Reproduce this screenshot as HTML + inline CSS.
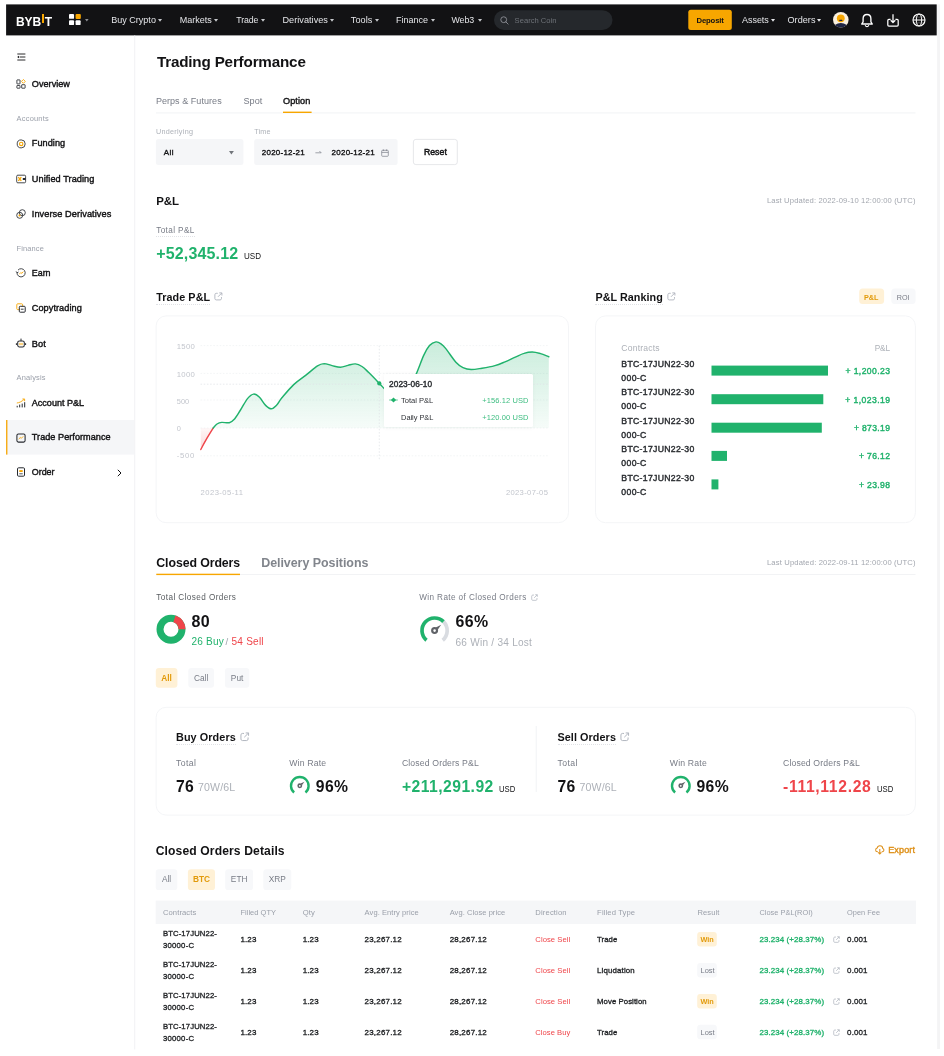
<!DOCTYPE html>
<html><head><meta charset="utf-8"><title>Trading Performance</title>
<style>
html,body{margin:0;padding:0;background:#fff;}
body{width:944px;height:1056px;position:relative;overflow:hidden;font-family:"Liberation Sans",sans-serif;}
.t{position:absolute;white-space:nowrap;}
#pg{position:absolute;left:0;top:0;width:944px;height:1056px;will-change:transform;}
.r{position:absolute;}
svg{position:absolute;overflow:visible;}
</style></head><body><div id="pg">
<svg style="left:936px;top:3px" width="5" height="1047" viewBox="936 3 5 1047"><rect x="937.10" y="4.40" width="2.90" height="1044.60" fill="#f4f4f5"/></svg>
<svg style="left:5px;top:3px" width="933" height="34" viewBox="5 3 933 34"><rect x="6.10" y="4.40" width="930.60" height="31.00" fill="#121214"/></svg>
<div class="t" style="left:15.9px;top:14.2px;height:16px;line-height:16px;font-size:12px;font-weight:700;color:#fff;letter-spacing:0.02px;">BYB<span style="display:inline-block;width:2.2px;height:9.2px;background:#f7a600;margin:0 0.9px 0 0.3px;vertical-align:-0.2px;position:relative;top:-3.7px;"></span>T</div>
<svg style="left:69.2px;top:14.1px" width="12.2" height="11.6" viewBox="0 0 13 13" preserveAspectRatio="none"><rect x="0" y="0" width="5.4" height="5.4" rx="1" fill="#fff"/><rect x="7" y="0" width="5.6" height="5.6" rx="1" fill="#f7a600"/><rect x="0" y="7" width="5.4" height="5.4" rx="1" fill="#fff"/><rect x="7" y="7" width="5.4" height="5.4" rx="1" fill="#fff"/></svg>
<svg style="left:84.86px;top:19.45px" width="3.64" height="2.53" viewBox="0 0 4.4 2.6" preserveAspectRatio="none"><path d="M0 0H4.4L2.2 2.6Z" fill="#8a8d93"/></svg>
<div class="t" style="top:15.34px;height:11.74px;line-height:11.74px;font-size:9.03px;color:#e4e5e8;letter-spacing:0.013px;left:111.20px;">Buy Crypto</div>
<svg style="left:158.36px;top:19.14px" width="4.05" height="2.82" viewBox="0 0 4.4 2.6" preserveAspectRatio="none"><path d="M0 0H4.4L2.2 2.6Z" fill="#c6c8cc"/></svg>
<div class="t" style="top:15.34px;height:11.74px;line-height:11.74px;font-size:9.03px;color:#e4e5e8;letter-spacing:0.012px;left:179.70px;">Markets</div>
<svg style="left:214.26px;top:19.14px" width="4.05" height="2.82" viewBox="0 0 4.4 2.6" preserveAspectRatio="none"><path d="M0 0H4.4L2.2 2.6Z" fill="#c6c8cc"/></svg>
<div class="t" style="top:15.49px;height:11.41px;line-height:11.41px;font-size:8.78px;color:#e4e5e8;letter-spacing:-0.122px;left:236.30px;">Trade</div>
<svg style="left:260.86px;top:19.14px" width="4.05" height="2.82" viewBox="0 0 4.4 2.6" preserveAspectRatio="none"><path d="M0 0H4.4L2.2 2.6Z" fill="#c6c8cc"/></svg>
<div class="t" style="top:15.29px;height:11.87px;line-height:11.87px;font-size:9.13px;color:#e4e5e8;letter-spacing:0.040px;left:282.40px;">Derivatives</div>
<svg style="left:330.46px;top:19.14px" width="4.05" height="2.82" viewBox="0 0 4.4 2.6" preserveAspectRatio="none"><path d="M0 0H4.4L2.2 2.6Z" fill="#c6c8cc"/></svg>
<div class="t" style="top:15.27px;height:11.9px;line-height:11.9px;font-size:9.15px;color:#e4e5e8;letter-spacing:0.048px;left:350.80px;">Tools</div>
<svg style="left:375.26px;top:19.14px" width="4.05" height="2.82" viewBox="0 0 4.4 2.6" preserveAspectRatio="none"><path d="M0 0H4.4L2.2 2.6Z" fill="#c6c8cc"/></svg>
<div class="t" style="top:15.36px;height:11.7px;line-height:11.7px;font-size:9.0px;color:#e4e5e8;letter-spacing:-0.003px;left:396.00px;">Finance</div>
<svg style="left:431.06px;top:19.14px" width="4.05" height="2.82" viewBox="0 0 4.4 2.6" preserveAspectRatio="none"><path d="M0 0H4.4L2.2 2.6Z" fill="#c6c8cc"/></svg>
<div class="t" style="top:15.45px;height:11.48px;line-height:11.48px;font-size:8.83px;color:#e4e5e8;letter-spacing:-0.077px;left:451.50px;">Web3</div>
<svg style="left:477.66px;top:19.14px" width="4.05" height="2.82" viewBox="0 0 4.4 2.6" preserveAspectRatio="none"><path d="M0 0H4.4L2.2 2.6Z" fill="#c6c8cc"/></svg>
<svg style="left:493px;top:9px" width="121" height="22" viewBox="493 9 121 22"><rect x="494.00" y="10.20" width="118.50" height="19.70" rx="10" fill="#25282c"/></svg>
<svg style="left:499.8px;top:16.0px" width="9" height="9" viewBox="0 0 8 8"><circle cx="3.3" cy="3.3" r="2.6" fill="none" stroke="#8d9096" stroke-width="0.8"/><path d="M5.2 5.2L7.2 7.2" stroke="#8d9096" stroke-width="0.8" stroke-linecap="round"/></svg>
<div class="t" style="top:16.13px;height:9.91px;line-height:9.91px;font-size:7.62px;color:#6e7278;letter-spacing:0.006px;left:514.60px;">Search Coin</div>
<svg style="left:687px;top:8px" width="46" height="23" viewBox="687 8 46 23"><rect x="688.30" y="9.80" width="43.50" height="20.20" rx="2.5" fill="#f7a600"/></svg>
<div class="t" style="top:15.88px;height:10.02px;line-height:10.02px;font-size:7.71px;color:#121214;font-weight:700;letter-spacing:-0.153px;left:696.50px;">Deposit</div>
<div class="t" style="top:15.38px;height:11.65px;line-height:11.65px;font-size:8.96px;color:#e4e5e8;letter-spacing:-0.015px;left:742.00px;">Assets</div>
<svg style="left:771.06px;top:19.14px" width="4.05" height="2.82" viewBox="0 0 4.4 2.6" preserveAspectRatio="none"><path d="M0 0H4.4L2.2 2.6Z" fill="#e4e5e8"/></svg>
<div class="t" style="top:15.30px;height:11.83px;line-height:11.83px;font-size:9.1px;color:#e4e5e8;letter-spacing:0.031px;left:787.50px;">Orders</div>
<svg style="left:817.36px;top:19.14px" width="4.05" height="2.82" viewBox="0 0 4.4 2.6" preserveAspectRatio="none"><path d="M0 0H4.4L2.2 2.6Z" fill="#e4e5e8"/></svg>
<svg style="left:833.4px;top:11.8px" width="15.6" height="15.6" viewBox="0 0 16 16"><defs><clipPath id="av"><circle cx="8" cy="8" r="8"/></clipPath></defs><circle cx="8" cy="8" r="8" fill="#fbf0de"/><g clip-path="url(#av)"><circle cx="8" cy="6.5" r="4" fill="#f7a600"/><rect x="6.3" y="7.9" width="3.4" height="1.3" rx="0.5" fill="#1f2544"/><ellipse cx="8" cy="17" rx="8" ry="5.6" fill="#1f2544"/></g></svg>
<svg style="left:859.9px;top:12.6px" width="14" height="15" viewBox="0 0 14 15"><path d="M7 1.5C4.5 1.5 3.1 3.4 3.1 5.8V8.8L1.7 11H12.3L10.9 8.800V5.8C10.9 3.4 9.5 1.5 7 1.5Z" fill="none" stroke="#fff" stroke-width="1.35" stroke-linejoin="round"/><path d="M5.4 12.6C5.7 13.4 6.300 13.7 7 13.7S8.3 13.4 8.6 12.6" fill="none" stroke="#fff" stroke-width="1.2" stroke-linecap="round"/></svg>
<svg style="left:885.8px;top:12.8px" width="14" height="15" viewBox="0 0 14 15"><path d="M4.6 6.3H2.900C2.3 6.3 1.8 6.8 1.8 7.4V11.900C1.8 12.5 2.3 13 2.900 13H11.100C11.7 13 12.2 12.5 12.2 11.900V7.4C12.2 6.800 11.7 6.3 11.100 6.3H9.4" fill="none" stroke="#fff" stroke-width="1.25" stroke-linejoin="round"/><path d="M7 1.2V9.400M4.700 7.300L7 9.600L9.300 7.300" fill="none" stroke="#fff" stroke-width="1.25" stroke-linejoin="round"/></svg>
<svg style="left:911.5px;top:13px" width="14" height="14" viewBox="0 0 14 14"><circle cx="7" cy="7" r="6" fill="none" stroke="#fff" stroke-width="1.15"/><ellipse cx="7" cy="7" rx="2.700" ry="6" fill="none" stroke="#fff" stroke-width="1.000"/><path d="M1 7H13" stroke="#fff" stroke-width="1.000"/><path d="M2 4.2H12M2 9.800H12" stroke="#fff" stroke-width="0.45" opacity="0.55"/></svg>
<svg style="left:133px;top:34px" width="4" height="1017" viewBox="133 34 4 1017"><rect x="134.30" y="35.40" width="0.90" height="1014.10" fill="#eff0f2"/></svg>
<svg style="left:17.3px;top:52.6px" width="9" height="8" viewBox="0 0 9 8"><path d="M0.3 1H8.4M2.6 4H8.4M0.3 7H8.4" stroke="#121214" stroke-width="0.9"/><path d="M0.2 4L2 2.8V5.2Z" fill="#121214"/></svg>
<div class="t" style="top:79.10px;height:11.83px;line-height:11.83px;font-size:9.1px;color:#121214;letter-spacing:0.034px;left:31.80px;-webkit-text-stroke:0.4px #121214;">Overview</div>
<svg style="left:16.0px;top:79.30px" width="10" height="10" viewBox="0 0 10 10"><rect x="0.9" y="0.9" width="3.1" height="4.0" rx="0.3" fill="none" stroke="#26292e" stroke-width="0.85"/><rect x="0.9" y="6.5" width="3.1" height="2.7" rx="0.3" fill="none" stroke="#26292e" stroke-width="0.85"/><rect x="5.7" y="5.7" width="3.4" height="3.5" rx="0.3" fill="none" stroke="#26292e" stroke-width="0.85"/><path d="M7.4 0.5L9.3 2.400L7.4 4.300L5.5 2.400Z" fill="none" stroke="#f7a600" stroke-width="0.9"/></svg>
<div class="t" style="top:114.13px;height:9.67px;line-height:9.67px;font-size:7.44px;color:#9a9fa9;letter-spacing:0.212px;left:16.60px;">Accounts</div>
<div class="t" style="top:138.38px;height:11.88px;line-height:11.88px;font-size:9.14px;color:#121214;letter-spacing:0.053px;left:31.80px;-webkit-text-stroke:0.4px #121214;">Funding</div>
<svg style="left:16.0px;top:138.60px" width="10" height="10" viewBox="0 0 10 10"><circle cx="5.2" cy="4.9" r="4.0" fill="none" stroke="#26292e" stroke-width="0.85"/><circle cx="5.2" cy="4.9" r="1.7" fill="none" stroke="#f7a600" stroke-width="1.1"/></svg>
<div class="t" style="top:173.55px;height:11.95px;line-height:11.95px;font-size:9.19px;color:#121214;letter-spacing:0.059px;left:31.80px;-webkit-text-stroke:0.4px #121214;">Unified Trading</div>
<svg style="left:16.0px;top:173.80px" width="10" height="10" viewBox="0 0 10 10"><rect x="0.7" y="1.2" width="8.9" height="7.6" rx="1.1" fill="none" stroke="#26292e" stroke-width="0.85"/><path d="M2.3 3.2L5.300 6.800M5.300 3.2L2.3 6.800" stroke="#f7a600" stroke-width="1.3"/><path d="M6.8 5H9.6" stroke="#26292e" stroke-width="2.0"/></svg>
<div class="t" style="top:208.53px;height:11.99px;line-height:11.99px;font-size:9.22px;color:#121214;letter-spacing:0.063px;left:31.80px;-webkit-text-stroke:0.4px #121214;">Inverse Derivatives</div>
<svg style="left:16.0px;top:208.80px" width="10" height="10" viewBox="0 0 10 10"><circle cx="6.300" cy="3.7" r="3.0" fill="none" stroke="#26292e" stroke-width="0.85"/><circle cx="3.7" cy="6.300" r="3.0" fill="none" stroke="#26292e" stroke-width="0.85"/><circle cx="3.5" cy="6.5" r="1.0" fill="#f7a600"/></svg>
<div class="t" style="top:243.63px;height:9.67px;line-height:9.67px;font-size:7.44px;color:#9a9fa9;letter-spacing:0.119px;left:16.60px;">Finance</div>
<div class="t" style="top:268.21px;height:11.58px;line-height:11.58px;font-size:8.91px;color:#121214;letter-spacing:-0.030px;left:31.80px;-webkit-text-stroke:0.4px #121214;">Earn</div>
<svg style="left:16.0px;top:268.30px" width="10" height="10" viewBox="0 0 10 10"><path d="M2.0 2.1A4.1 4.1 0 1 1 1.0 4.4" fill="none" stroke="#26292e" stroke-width="0.85"/><path d="M0.1 3.4L1.0 4.800L2.5 4.0" fill="none" stroke="#26292e" stroke-width="0.85"/><path d="M3.3 6.2L4.800 4.5L5.800 5.4L7.300 3.600" fill="none" stroke="#f7a600" stroke-width="0.9"/></svg>
<div class="t" style="top:303.07px;height:11.91px;line-height:11.91px;font-size:9.16px;color:#121214;letter-spacing:0.055px;left:31.80px;-webkit-text-stroke:0.4px #121214;">Copytrading</div>
<svg style="left:16.0px;top:303.30px" width="10" height="10" viewBox="0 0 10 10"><rect x="0.8" y="0.8" width="5.800" height="5.800" rx="0.9" fill="none" stroke="#f7a600" stroke-width="0.9"/><rect x="3.300" y="3.300" width="5.900" height="5.900" rx="0.9" fill="#fff" stroke="#26292e" stroke-width="1.0"/><path d="M4.800 6.2H7.600" stroke="#26292e" stroke-width="0.9"/></svg>
<div class="t" style="top:338.03px;height:12.0px;line-height:12.0px;font-size:9.23px;color:#121214;letter-spacing:0.082px;left:31.80px;-webkit-text-stroke:0.4px #121214;">Bot</div>
<svg style="left:16.0px;top:338.30px" width="10" height="10" viewBox="0 0 10 10"><rect x="1.7" y="2.900" width="6.600" height="6.100" rx="1.700" fill="none" stroke="#26292e" stroke-width="1.05"/><path d="M5 0.6V2.900M0.400 5.200V7M9.600 5.200V7" stroke="#26292e" stroke-width="1.0"/><rect x="3.500" y="4.900" width="1.0" height="2.300" fill="#f7a600"/><rect x="5.500" y="4.900" width="1.0" height="2.300" fill="#f7a600"/></svg>
<div class="t" style="top:373.13px;height:9.67px;line-height:9.67px;font-size:7.44px;color:#9a9fa9;letter-spacing:0.162px;left:16.60px;">Analysis</div>
<div class="t" style="top:397.64px;height:11.74px;line-height:11.74px;font-size:9.03px;color:#121214;letter-spacing:0.009px;left:31.80px;-webkit-text-stroke:0.4px #121214;">Account P&amp;L</div>
<svg style="left:16.0px;top:397.80px" width="10" height="10" viewBox="0 0 10 10"><path d="M1.2 9.400V7.800M3.700 9.400V6.600M6.200 9.400V5.600M8.700 9.400V4.200" stroke="#26292e" stroke-width="1"/><path d="M0.800 5.0C3.200 4.800 5.600 3.600 8.200 1.3M6.400 1.0H8.600V3.200" fill="none" stroke="#f7a600" stroke-width="0.9"/></svg>
<svg style="left:5px;top:419px" width="131" height="37" viewBox="5 419 131 37"><rect x="6.10" y="420.00" width="128.20" height="34.60" fill="#f5f6f8"/></svg>
<svg style="left:5px;top:419px" width="4" height="37" viewBox="5 419 4 37"><rect x="6.10" y="420.00" width="1.30" height="34.60" fill="#f7a600"/></svg>
<div class="t" style="top:432.39px;height:11.86px;line-height:11.86px;font-size:9.12px;color:#121214;letter-spacing:0.039px;left:31.80px;-webkit-text-stroke:0.4px #121214;">Trade Performance</div>
<svg style="left:16.0px;top:432.60px" width="10" height="10" viewBox="0 0 10 10"><rect x="0.9" y="0.9" width="8.2" height="8.2" rx="1.500" fill="none" stroke="#26292e" stroke-width="1.05"/><path d="M2.700 6.100L4.300 4.500L5.300 5.300L7.200 3.400" fill="none" stroke="#f7a600" stroke-width="0.9" stroke-width="1.2"/></svg>
<div class="t" style="top:467.30px;height:11.61px;line-height:11.61px;font-size:8.93px;color:#121214;letter-spacing:-0.025px;left:31.80px;-webkit-text-stroke:0.4px #121214;">Order</div>
<svg style="left:16.0px;top:467.40px" width="10" height="10" viewBox="0 0 10 10"><rect x="1.500" y="0.800" width="7.000" height="8.400" rx="1.1" fill="none" stroke="#26292e" stroke-width="1.0"/><rect x="3.300" y="3.100" width="3.400" height="1.900" fill="#f7a600"/><path d="M3.300 6.800H6.700" stroke="#26292e" stroke-width="0.8"/></svg>
<svg style="left:117.3px;top:468.6px" width="5" height="8" viewBox="0 0 5 8"><path d="M0.8 0.8L4 4L0.8 7.2" fill="none" stroke="#121214" stroke-width="1"/></svg>
<div class="t" style="top:52.47px;height:19.79px;line-height:19.79px;font-size:15.22px;color:#121214;font-weight:700;letter-spacing:-0.181px;left:156.90px;">Trading Performance</div>
<div class="t" style="top:95.94px;height:11.74px;line-height:11.74px;font-size:9.03px;color:#787c86;letter-spacing:0.044px;left:155.90px;">Perps &amp; Futures</div>
<div class="t" style="top:95.89px;height:11.87px;line-height:11.87px;font-size:9.13px;color:#787c86;letter-spacing:0.079px;left:243.40px;">Spot</div>
<div class="t" style="top:95.88px;height:11.88px;line-height:11.88px;font-size:9.14px;color:#121214;letter-spacing:0.078px;left:283.00px;-webkit-text-stroke:0.4px #121214;">Option</div>
<svg style="left:155px;top:111px" width="762" height="4" viewBox="155 111 762 4"><rect x="156.00" y="112.60" width="759.50" height="0.70" fill="#eceef1"/></svg>
<svg style="left:282px;top:110px" width="31" height="4" viewBox="282 110 31 4"><rect x="283.00" y="111.60" width="28.60" height="1.40" fill="#f7a600"/></svg>
<div class="t" style="top:127.25px;height:9.4px;line-height:9.4px;font-size:7.23px;color:#adb1b8;letter-spacing:0.284px;left:155.90px;">Underlying</div>
<div class="t" style="top:127.25px;height:9.4px;line-height:9.4px;font-size:7.23px;color:#adb1b8;letter-spacing:0.200px;left:254.20px;">Time</div>
<svg style="left:154px;top:138px" width="91" height="28" viewBox="154 138 91 28"><rect x="155.90" y="139.00" width="87.50" height="26.00" rx="2.5" fill="#f5f6f8"/></svg>
<div class="t" style="top:147.74px;height:10.35px;line-height:10.35px;font-size:7.96px;color:#121214;letter-spacing:0.451px;left:163.80px;-webkit-text-stroke:0.35px #121214;">All</div>
<svg style="left:228.88px;top:151.33px" width="4.86" height="3.38" viewBox="0 0 4.4 2.6" preserveAspectRatio="none"><path d="M0 0H4.4L2.2 2.6Z" fill="#71757a"/></svg>
<svg style="left:253px;top:138px" width="146" height="28" viewBox="253 138 146 28"><rect x="254.20" y="139.00" width="143.40" height="26.00" rx="2.5" fill="#f5f6f8"/></svg>
<div class="t" style="top:147.74px;height:10.35px;line-height:10.35px;font-size:7.96px;color:#121214;letter-spacing:0.248px;left:261.80px;-webkit-text-stroke:0.35px #121214;">2020-12-21</div>
<svg style="left:315.4px;top:150px" width="7" height="5" viewBox="0 0 7 5"><path d="M0.4 2.8H6.2M4.4 1L6.2 2.8" fill="none" stroke="#787c86" stroke-width="0.7"/></svg>
<div class="t" style="top:147.74px;height:10.35px;line-height:10.35px;font-size:7.96px;color:#121214;letter-spacing:0.258px;left:331.60px;-webkit-text-stroke:0.35px #121214;">2020-12-21</div>
<svg style="left:381.4px;top:148.6px" width="8" height="8" viewBox="0 0 8 8"><rect x="0.7" y="1.3" width="6.6" height="6" rx="0.8" fill="none" stroke="#787c86" stroke-width="0.7"/><path d="M0.7 3.4H7.3M2.4 0.4V2M5.6 0.4V2" stroke="#787c86" stroke-width="0.7"/></svg>
<svg style="left:412px;top:138px" width="47" height="28" viewBox="412 138 47 28"><rect x="413.40" y="139.40" width="43.90" height="25.20" rx="2.5" fill="#fff" stroke="#dfe1e5" stroke-width="0.8"/></svg>
<div class="t" style="top:147.29px;height:11.39px;line-height:11.39px;font-size:8.76px;color:#121214;letter-spacing:0.023px;left:423.90px;-webkit-text-stroke:0.45px #121214;">Reset</div>
<div class="t" style="top:194.29px;height:14.88px;line-height:14.88px;font-size:11.45px;color:#121214;font-weight:700;letter-spacing:-0.067px;left:156.20px;">P&amp;L</div>
<div class="t" style="top:196.22px;height:9.93px;line-height:9.93px;font-size:7.64px;color:#a3a7af;letter-spacing:0.140px;right:28.50px;margin-right:-0.140px;">Last Updated: 2022-09-10 12:00:00 (UTC)</div>
<div class="t" style="top:225.63px;height:10.62px;line-height:10.62px;font-size:8.17px;color:#787c86;letter-spacing:0.403px;left:156.20px;border-bottom:0.7px dotted #e0e2e6;">Total P&amp;L</div>
<div class="t" style="top:243.43px;height:20.83px;line-height:20.83px;font-size:16.02px;color:#20b26c;font-weight:700;letter-spacing:0.147px;left:156.20px;">+52,345.12</div>
<div class="t" style="top:249.79px;height:12.09px;line-height:12.09px;font-size:9.3px;color:#121214;left:244.00px;transform:scaleX(0.865);transform-origin:left center;">USD</div>
<div class="t" style="top:290.97px;height:13.2px;line-height:13.2px;font-size:10.79px;color:#121214;font-weight:700;letter-spacing:0.070px;left:156.20px;border-bottom:0.7px dotted #e0e2e6;">Trade P&amp;L</div>
<svg style="left:214.30px;top:292.00px" width="8.80" height="8.80" viewBox="0 0 8 8"><path d="M3.4 1.2H2C1.3 1.2 0.8 1.7 0.8 2.4V6C0.8 6.7 1.3 7.2 2 7.2H5.6C6.3 7.2 6.8 6.7 6.8 6V4.6" fill="none" stroke="#adb2bc" stroke-width="0.8"/><path d="M3.6 4.4L7 1M4.8 0.8H7.2V3.2" fill="none" stroke="#adb2bc" stroke-width="0.8"/></svg>
<svg style="left:154px;top:314px" width="416" height="211" viewBox="154 314 416 211"><rect x="156.10" y="315.90" width="412.40" height="206.80" rx="10" fill="#fff" stroke="#f4f5f7" stroke-width="1.0"/></svg>
<div class="t" style="top:342.36px;height:10.08px;line-height:10.08px;font-size:7.75px;color:#c3c6cd;letter-spacing:0.265px;left:176.80px;">1500</div>
<div class="t" style="top:369.66px;height:10.08px;line-height:10.08px;font-size:7.75px;color:#c3c6cd;letter-spacing:0.265px;left:176.80px;">1000</div>
<div class="t" style="top:396.56px;height:9.62px;line-height:9.62px;font-size:7.4px;color:#c3c6cd;left:176.80px;">500</div>
<div class="t" style="top:423.86px;height:9.62px;line-height:9.62px;font-size:7.4px;color:#c3c6cd;left:176.80px;">0</div>
<div class="t" style="top:451.06px;height:10.08px;line-height:10.08px;font-size:7.75px;color:#c3c6cd;letter-spacing:0.697px;left:176.80px;">-500</div>
<div class="t" style="top:487.72px;height:9.93px;line-height:9.93px;font-size:7.64px;color:#c3c6cd;letter-spacing:0.438px;left:200.60px;">2023-05-11</div>
<div class="t" style="top:487.72px;height:9.93px;line-height:9.93px;font-size:7.64px;color:#c3c6cd;letter-spacing:0.332px;left:505.90px;">2023-07-05</div>
<svg style="left:0;top:0" width="944" height="560" viewBox="0 0 944 560"><defs><linearGradient id="gg" x1="0" y1="342" x2="0" y2="428" gradientUnits="userSpaceOnUse"><stop offset="0" stop-color="#20b26c" stop-opacity="0.24"/><stop offset="1" stop-color="#20b26c" stop-opacity="0.04"/></linearGradient><linearGradient id="rg" x1="0" y1="428" x2="0" y2="450" gradientUnits="userSpaceOnUse"><stop offset="0" stop-color="#ef454a" stop-opacity="0.04"/><stop offset="1" stop-color="#ef454a" stop-opacity="0.22"/></linearGradient></defs><path d="M200.5 345.6H549" stroke="#eef0f2" stroke-width="0.7" stroke-dasharray="1.6 1.6"/><path d="M200.5 373.4H549" stroke="#eef0f2" stroke-width="0.7" stroke-dasharray="1.6 1.6"/><path d="M200.5 400.0H549" stroke="#eef0f2" stroke-width="0.7" stroke-dasharray="1.6 1.6"/><path d="M200.5 428.0H549" stroke="#eef0f2" stroke-width="0.7" stroke-dasharray="1.6 1.6"/><path d="M200.5 455.8H549" stroke="#eef0f2" stroke-width="0.7" stroke-dasharray="1.6 1.6"/><path d="M213.2 428.0C213.8 427.3 215.6 424.9 217.0 424.0C218.4 423.1 219.6 422.6 221.7 422.4C223.8 422.2 227.2 423.2 229.3 422.7C231.4 422.2 232.1 421.7 234.0 419.6C235.9 417.5 238.2 413.5 240.5 410.0C242.8 406.5 245.3 401.2 247.5 398.6C249.7 396.0 251.6 394.3 253.6 394.1C255.6 393.9 257.5 395.4 259.5 397.3C261.5 399.2 263.6 403.5 265.6 405.4C267.6 407.3 269.5 408.9 271.4 408.8C273.3 408.7 275.2 406.5 277.0 404.7C278.8 402.9 279.1 401.1 281.9 397.8C284.7 394.5 289.8 388.3 293.7 384.6C297.6 380.9 301.6 378.5 305.6 375.4C309.6 372.3 314.4 367.9 317.5 365.9C320.6 363.9 321.8 363.7 324.2 363.6C326.6 363.6 329.3 365.0 332.0 365.6C334.7 366.2 337.7 367.3 340.4 367.3C343.1 367.3 345.5 366.0 348.0 365.4C350.5 364.8 353.1 363.7 355.4 363.9C357.7 364.1 359.8 365.1 362.0 366.5C364.2 367.9 365.6 369.5 368.5 372.3C371.4 375.1 376.1 380.0 379.3 383.4C382.6 386.8 384.9 389.6 388.0 392.5C391.1 395.4 394.8 400.6 398.0 401.0C401.2 401.4 404.0 399.4 407.0 395.0C410.0 390.6 413.3 381.0 416.1 374.4C418.9 367.8 421.5 360.2 423.7 355.4C425.9 350.6 427.5 347.9 429.5 345.6C431.5 343.4 434.0 342.2 435.9 341.9C437.8 341.6 439.4 342.7 441.0 343.8C442.6 344.9 443.3 345.5 445.8 348.6C448.3 351.7 453.0 359.0 455.9 362.2C458.8 365.4 460.4 366.4 463.0 367.6C465.6 368.8 468.0 369.4 471.2 369.5C474.4 369.6 478.1 368.8 482.0 368.2C485.9 367.6 491.1 366.7 494.9 365.6C498.7 364.5 501.6 363.2 505.0 361.8C508.4 360.4 512.1 358.5 515.3 357.1C518.5 355.7 521.2 354.2 524.0 353.4C526.8 352.5 529.5 352.0 532.2 352.0C535.0 352.0 537.7 352.8 540.5 353.6C543.3 354.4 547.4 356.3 548.8 356.8L548.8 428H213.2Z" fill="url(#gg)"/><path d="M200.8 449.5C201.8 447.6 204.9 441.8 207.0 438.2C209.1 434.6 212.2 429.7 213.2 428.0L200.8 428Z" fill="url(#rg)"/><path d="M200.5 384.2H549" stroke="#dfe2e6" stroke-width="0.7" stroke-dasharray="1.6 1.6"/><path d="M379.3 345.6V460" stroke="#dfe2e6" stroke-width="0.7" stroke-dasharray="1.6 1.6"/><path d="M200.8 449.5C201.8 447.6 204.9 441.8 207.0 438.2C209.1 434.6 212.2 429.7 213.2 428.0" fill="none" stroke="#ef454a" stroke-width="1.45" stroke-linecap="round"/><path d="M213.2 428.0C213.8 427.3 215.6 424.9 217.0 424.0C218.4 423.1 219.6 422.6 221.7 422.4C223.8 422.2 227.2 423.2 229.3 422.7C231.4 422.2 232.1 421.7 234.0 419.6C235.9 417.5 238.2 413.5 240.5 410.0C242.8 406.5 245.3 401.2 247.5 398.6C249.7 396.0 251.6 394.3 253.6 394.1C255.6 393.9 257.5 395.4 259.5 397.3C261.5 399.2 263.6 403.5 265.6 405.4C267.6 407.3 269.5 408.9 271.4 408.8C273.3 408.7 275.2 406.5 277.0 404.7C278.8 402.9 279.1 401.1 281.9 397.8C284.7 394.5 289.8 388.3 293.7 384.6C297.6 380.9 301.6 378.5 305.6 375.4C309.6 372.3 314.4 367.9 317.5 365.9C320.6 363.9 321.8 363.7 324.2 363.6C326.6 363.6 329.3 365.0 332.0 365.6C334.7 366.2 337.7 367.3 340.4 367.3C343.1 367.3 345.5 366.0 348.0 365.4C350.5 364.8 353.1 363.7 355.4 363.9C357.7 364.1 359.8 365.1 362.0 366.5C364.2 367.9 365.6 369.5 368.5 372.3C371.4 375.1 376.1 380.0 379.3 383.4C382.6 386.8 384.9 389.6 388.0 392.5C391.1 395.4 394.8 400.6 398.0 401.0C401.2 401.4 404.0 399.4 407.0 395.0C410.0 390.6 413.3 381.0 416.1 374.4C418.9 367.8 421.5 360.2 423.7 355.4C425.9 350.6 427.5 347.9 429.5 345.6C431.5 343.4 434.0 342.2 435.9 341.9C437.8 341.6 439.4 342.7 441.0 343.8C442.6 344.9 443.3 345.5 445.8 348.6C448.3 351.7 453.0 359.0 455.9 362.2C458.8 365.4 460.4 366.4 463.0 367.6C465.6 368.8 468.0 369.4 471.2 369.5C474.4 369.6 478.1 368.8 482.0 368.2C485.9 367.6 491.1 366.7 494.9 365.6C498.7 364.5 501.6 363.2 505.0 361.8C508.4 360.4 512.1 358.5 515.3 357.1C518.5 355.7 521.2 354.2 524.0 353.4C526.8 352.5 529.5 352.0 532.2 352.0C535.0 352.0 537.7 352.8 540.5 353.6C543.3 354.4 547.4 356.3 548.8 356.8" fill="none" stroke="#20b26c" stroke-width="1.45" stroke-linecap="round"/><circle cx="379.3" cy="383.4" r="2.1" fill="#20b26c"/></svg>
<div class="r" style="left:384.40px;top:374.40px;width:148.70px;height:53.10px;background:#fff;border-radius:1.5px;box-shadow:0 0.5px 4px rgba(0,0,0,0.045);"></div>
<div class="t" style="top:380.27px;height:10.76px;line-height:10.76px;font-size:8.28px;color:#2a2d31;letter-spacing:0.094px;left:389.00px;-webkit-text-stroke:0.4px #2a2d31;">2023-06-10</div>
<svg style="left:389.4px;top:396.4px" width="9" height="8" viewBox="0 0 9 8"><path d="M0.2 4H8.8" stroke="#20b26c" stroke-width="0.7"/><path d="M4.5 1.4L7.1 4L4.5 6.6L1.9 4Z" fill="#20b26c"/></svg>
<div class="t" style="top:395.87px;height:9.81px;line-height:9.81px;font-size:7.55px;color:#2e3136;letter-spacing:-0.013px;left:401.10px;">Total P&amp;L</div>
<div class="t" style="top:412.73px;height:9.67px;line-height:9.67px;font-size:7.44px;color:#2e3136;letter-spacing:-0.052px;left:401.10px;">Daily P&amp;L</div>
<div class="t" style="top:395.90px;height:9.75px;line-height:9.75px;font-size:7.5px;color:#3dbd80;letter-spacing:0.078px;right:415.60px;margin-right:-0.078px;">+156.12 USD</div>
<div class="t" style="top:412.70px;height:9.75px;line-height:9.75px;font-size:7.5px;color:#3dbd80;letter-spacing:0.078px;right:415.60px;margin-right:-0.078px;">+120.00 USD</div>
<div class="t" style="top:290.97px;height:13.2px;line-height:13.2px;font-size:10.77px;color:#121214;font-weight:700;letter-spacing:0.061px;left:595.40px;border-bottom:0.7px dotted #e0e2e6;">P&amp;L Ranking</div>
<svg style="left:667.40px;top:292.00px" width="8.80" height="8.80" viewBox="0 0 8 8"><path d="M3.4 1.2H2C1.3 1.2 0.8 1.7 0.8 2.4V6C0.8 6.7 1.3 7.2 2 7.2H5.6C6.3 7.2 6.8 6.7 6.8 6V4.6" fill="none" stroke="#adb2bc" stroke-width="0.8"/><path d="M3.6 4.4L7 1M4.8 0.8H7.2V3.2" fill="none" stroke="#adb2bc" stroke-width="0.8"/></svg>
<svg style="left:858px;top:287px" width="28" height="18" viewBox="858 287 28 18"><rect x="859.20" y="288.60" width="24.90" height="15.40" rx="3.5" fill="#fff1d6"/></svg>
<div class="t" style="top:292.53px;height:9.44px;line-height:9.44px;font-size:7.26px;color:#e29a0a;font-weight:700;letter-spacing:0.026px;left:864.00px;">P&amp;L</div>
<svg style="left:890px;top:287px" width="27" height="18" viewBox="890 287 27 18"><rect x="891.30" y="288.60" width="24.30" height="15.40" rx="3.5" fill="#f7f8fa"/></svg>
<div class="t" style="top:292.57px;height:9.36px;line-height:9.36px;font-size:7.2px;color:#787c86;letter-spacing:-0.000px;left:896.80px;">ROI</div>
<svg style="left:594px;top:314px" width="323" height="211" viewBox="594 314 323 211"><rect x="595.50" y="315.90" width="319.90" height="206.80" rx="10" fill="#fff" stroke="#f4f5f7" stroke-width="1.0"/></svg>
<div class="t" style="top:343.39px;height:11.17px;line-height:11.17px;font-size:8.59px;color:#adb1b8;letter-spacing:0.204px;left:621.30px;">Contracts</div>
<div class="t" style="top:343.59px;height:10.7px;line-height:10.7px;font-size:8.23px;color:#adb1b8;letter-spacing:0.014px;right:53.80px;margin-right:-0.014px;">P&amp;L</div>
<div class="t" style="top:358.73px;height:11.3px;line-height:11.3px;font-size:8.69px;color:#2a2d31;letter-spacing:0.310px;left:621.30px;-webkit-text-stroke:0.4px #2a2d31;">BTC-17JUN22-30</div>
<div class="t" style="top:372.73px;height:11.3px;line-height:11.3px;font-size:8.69px;color:#2a2d31;letter-spacing:0.346px;left:621.30px;-webkit-text-stroke:0.4px #2a2d31;">000-C</div>
<svg style="left:710px;top:364px" width="119" height="13" viewBox="710 364 119 13"><rect x="711.50" y="365.60" width="116.50" height="10.00" fill="#20b26c"/></svg>
<div class="t" style="top:365.99px;height:11.17px;line-height:11.17px;font-size:8.59px;color:#20b26c;letter-spacing:0.416px;right:54.00px;margin-right:-0.416px;-webkit-text-stroke:0.4px #20b26c;">+ 1,200.23</div>
<div class="t" style="top:387.33px;height:11.3px;line-height:11.3px;font-size:8.69px;color:#2a2d31;letter-spacing:0.310px;left:621.30px;-webkit-text-stroke:0.4px #2a2d31;">BTC-17JUN22-30</div>
<div class="t" style="top:401.33px;height:11.3px;line-height:11.3px;font-size:8.69px;color:#2a2d31;letter-spacing:0.346px;left:621.30px;-webkit-text-stroke:0.4px #2a2d31;">000-C</div>
<svg style="left:710px;top:393px" width="115" height="13" viewBox="710 393 115 13"><rect x="711.50" y="394.20" width="111.80" height="10.00" fill="#20b26c"/></svg>
<div class="t" style="top:394.59px;height:11.17px;line-height:11.17px;font-size:8.59px;color:#20b26c;letter-spacing:0.436px;right:54.00px;margin-right:-0.436px;-webkit-text-stroke:0.4px #20b26c;">+ 1,023.19</div>
<div class="t" style="top:415.83px;height:11.3px;line-height:11.3px;font-size:8.69px;color:#2a2d31;letter-spacing:0.310px;left:621.30px;-webkit-text-stroke:0.4px #2a2d31;">BTC-17JUN22-30</div>
<div class="t" style="top:429.83px;height:11.3px;line-height:11.3px;font-size:8.69px;color:#2a2d31;letter-spacing:0.346px;left:621.30px;-webkit-text-stroke:0.4px #2a2d31;">000-C</div>
<svg style="left:710px;top:421px" width="113" height="13" viewBox="710 421 113 13"><rect x="711.50" y="422.70" width="110.30" height="10.00" fill="#20b26c"/></svg>
<div class="t" style="top:423.09px;height:11.17px;line-height:11.17px;font-size:8.59px;color:#20b26c;letter-spacing:0.353px;right:54.00px;margin-right:-0.353px;-webkit-text-stroke:0.4px #20b26c;">+ 873.19</div>
<div class="t" style="top:444.03px;height:11.3px;line-height:11.3px;font-size:8.69px;color:#2a2d31;letter-spacing:0.310px;left:621.30px;-webkit-text-stroke:0.4px #2a2d31;">BTC-17JUN22-30</div>
<div class="t" style="top:458.03px;height:11.3px;line-height:11.3px;font-size:8.69px;color:#2a2d31;letter-spacing:0.346px;left:621.30px;-webkit-text-stroke:0.4px #2a2d31;">000-C</div>
<svg style="left:710px;top:449px" width="18" height="13" viewBox="710 449 18 13"><rect x="711.50" y="450.90" width="15.50" height="10.00" fill="#20b26c"/></svg>
<div class="t" style="top:451.29px;height:11.17px;line-height:11.17px;font-size:8.59px;color:#20b26c;letter-spacing:0.357px;right:54.00px;margin-right:-0.357px;-webkit-text-stroke:0.4px #20b26c;">+ 76.12</div>
<div class="t" style="top:472.53px;height:11.3px;line-height:11.3px;font-size:8.69px;color:#2a2d31;letter-spacing:0.310px;left:621.30px;-webkit-text-stroke:0.4px #2a2d31;">BTC-17JUN22-30</div>
<div class="t" style="top:486.53px;height:11.3px;line-height:11.3px;font-size:8.69px;color:#2a2d31;letter-spacing:0.346px;left:621.30px;-webkit-text-stroke:0.4px #2a2d31;">000-C</div>
<svg style="left:710px;top:478px" width="10" height="13" viewBox="710 478 10 13"><rect x="711.50" y="479.40" width="6.90" height="10.00" fill="#20b26c"/></svg>
<div class="t" style="top:479.79px;height:11.17px;line-height:11.17px;font-size:8.59px;color:#20b26c;letter-spacing:0.357px;right:54.00px;margin-right:-0.357px;-webkit-text-stroke:0.4px #20b26c;">+ 23.98</div>
<div class="t" style="top:555.39px;height:16.03px;line-height:16.03px;font-size:12.33px;color:#121214;font-weight:700;letter-spacing:-0.090px;left:156.30px;">Closed Orders</div>
<div class="t" style="top:555.22px;height:16.2px;line-height:16.2px;font-size:12.46px;color:#81858c;font-weight:700;letter-spacing:-0.046px;left:261.20px;">Delivery Positions</div>
<svg style="left:155px;top:573px" width="762" height="3" viewBox="155 573 762 3"><rect x="156.00" y="574.30" width="759.50" height="0.70" fill="#eceef1"/></svg>
<svg style="left:155px;top:572px" width="86" height="5" viewBox="155 572 86 5"><rect x="156.30" y="573.70" width="83.70" height="1.40" fill="#f7a600"/></svg>
<div class="t" style="top:557.72px;height:9.93px;line-height:9.93px;font-size:7.64px;color:#a3a7af;letter-spacing:0.154px;right:28.50px;margin-right:-0.154px;">Last Updated: 2022-09-11 12:00:00 (UTC)</div>
<div class="t" style="top:593.03px;height:10.62px;line-height:10.62px;font-size:8.17px;color:#595d61;letter-spacing:0.421px;left:156.30px;">Total Closed Orders</div>
<div class="t" style="top:593.03px;height:10.62px;line-height:10.62px;font-size:8.17px;color:#787c86;letter-spacing:0.403px;left:419.20px;">Win Rate of Closed Orders</div>
<svg style="left:530.60px;top:594.28px" width="7.04" height="7.04" viewBox="0 0 8 8"><path d="M3.4 1.2H2C1.3 1.2 0.8 1.7 0.8 2.4V6C0.8 6.7 1.3 7.2 2 7.2H5.6C6.3 7.2 6.8 6.7 6.8 6V4.6" fill="none" stroke="#adb2bc" stroke-width="0.8"/><path d="M3.6 4.4L7 1M4.8 0.8H7.2V3.2" fill="none" stroke="#adb2bc" stroke-width="0.8"/></svg>
<svg style="left:150px;top:608px" width="42" height="42" viewBox="150 608 42 42"><circle cx="171" cy="629.3" r="11" fill="none" stroke="#20b26c" stroke-width="7"/><path d="M174.40 618.84A11 11 0 0 1 182.00 629.30" fill="none" stroke="#ef454a" stroke-width="7"/></svg>
<div class="t" style="top:611.43px;height:20.83px;line-height:20.83px;font-size:16.02px;color:#121214;font-weight:700;letter-spacing:0.240px;left:191.60px;">80</div>
<div class="t" style="top:635.37px;height:13.07px;line-height:13.07px;font-size:10.05px;color:#20b26c;letter-spacing:0.168px;left:191.60px;">26 Buy</div>
<div class="t" style="top:635.62px;height:12.48px;line-height:12.48px;font-size:9.6px;color:#9ea3ad;left:225.40px;">/</div>
<div class="t" style="top:635.37px;height:13.07px;line-height:13.07px;font-size:10.05px;color:#ef454a;letter-spacing:0.224px;left:231.50px;">54 Sell</div>
<svg style="left:418.90px;top:615.10px" width="31.20" height="31.20" viewBox="418.90 615.10 31.20 31.20"><path d="M443.38 621.76A12.6 12.6 0 0 1 442.60 640.35" fill="none" stroke="#d9dce1" stroke-width="3.7"/><path d="M426.40 640.35A12.6 12.6 0 1 1 443.38 621.76" fill="none" stroke="#20b26c" stroke-width="3.7"/><circle cx="434.50" cy="630.70" r="2.40" fill="none" stroke="#606368" stroke-width="2.20"/><path d="M435.70 627.50L441.10 624.90L437.80 629.70Z" fill="#606368"/></svg>
<div class="t" style="top:611.88px;height:20.7px;line-height:20.7px;font-size:15.92px;color:#121214;font-weight:700;letter-spacing:0.412px;left:455.40px;">66%</div>
<div class="t" style="top:635.57px;height:13.07px;line-height:13.07px;font-size:10.05px;color:#adb1b8;letter-spacing:0.261px;left:455.40px;">66 Win / 34 Lost</div>
<svg style="left:154px;top:667px" width="25" height="22" viewBox="154 667 25 22"><rect x="155.80" y="668.10" width="21.60" height="19.60" rx="3.2" fill="#fff1d6"/></svg>
<div class="t" style="top:673.25px;height:10.79px;line-height:10.79px;font-size:8.3px;color:#e29a0a;font-weight:700;left:161.30px;">All</div>
<svg style="left:187px;top:667px" width="28" height="22" viewBox="187 667 28 22"><rect x="188.30" y="668.10" width="25.70" height="19.60" rx="3.2" fill="#f7f8fa"/></svg>
<div class="t" style="top:673.25px;height:10.79px;line-height:10.79px;font-size:8.3px;color:#787c86;left:194.00px;">Call</div>
<svg style="left:223px;top:667px" width="28" height="22" viewBox="223 667 28 22"><rect x="224.90" y="668.10" width="24.40" height="19.60" rx="3.2" fill="#f7f8fa"/></svg>
<div class="t" style="top:673.25px;height:10.79px;line-height:10.79px;font-size:8.3px;color:#787c86;left:230.87px;">Put</div>
<svg style="left:154px;top:705px" width="763" height="112" viewBox="154 705 763 112"><rect x="156.10" y="707.30" width="759.30" height="107.80" rx="10" fill="#fff" stroke="#f4f5f7" stroke-width="1.0"/></svg>
<svg style="left:534px;top:725px" width="4" height="68" viewBox="534 725 4 68"><rect x="535.80" y="726.00" width="0.70" height="66.00" fill="#eceef1"/></svg>
<div class="t" style="top:730.77px;height:13.2px;line-height:13.2px;font-size:10.83px;color:#121214;font-weight:700;letter-spacing:0.082px;left:176.00px;border-bottom:0.7px dotted #e0e2e6;">Buy Orders</div>
<svg style="left:239.80px;top:732.25px" width="9.50" height="9.50" viewBox="0 0 8 8"><path d="M3.4 1.2H2C1.3 1.2 0.8 1.7 0.8 2.4V6C0.8 6.7 1.3 7.2 2 7.2H5.6C6.3 7.2 6.8 6.7 6.8 6V4.6" fill="none" stroke="#adb2bc" stroke-width="0.8"/><path d="M3.6 4.4L7 1M4.8 0.8H7.2V3.2" fill="none" stroke="#adb2bc" stroke-width="0.8"/></svg>
<div class="t" style="top:757.53px;height:11.3px;line-height:11.3px;font-size:8.69px;color:#787c86;letter-spacing:0.409px;left:176.00px;">Total</div>
<div class="t" style="top:757.53px;height:11.3px;line-height:11.3px;font-size:8.69px;color:#787c86;letter-spacing:0.183px;left:289.20px;">Win Rate</div>
<div class="t" style="top:757.54px;height:11.28px;line-height:11.28px;font-size:8.68px;color:#787c86;letter-spacing:0.137px;left:401.90px;">Closed Orders P&amp;L</div>
<div class="t" style="top:776.60px;height:20.42px;line-height:20.42px;font-size:15.71px;color:#121214;font-weight:700;letter-spacing:0.363px;left:176.00px;">76</div>
<div class="t" style="top:780.88px;height:13.74px;line-height:13.74px;font-size:10.57px;color:#adb1b8;letter-spacing:0.145px;left:198.00px;">70W/6L</div>
<svg style="left:287.90px;top:774.10px" width="23.60" height="23.60" viewBox="287.90 774.10 23.60 23.60"><path d="M294.04 792.64A8.8 8.8 0 1 1 305.36 792.64" fill="none" stroke="#20b26c" stroke-width="2.4"/><circle cx="299.70" cy="785.90" r="1.68" fill="none" stroke="#606368" stroke-width="1.54"/><path d="M300.54 783.67L304.31 781.85L302.00 785.20Z" fill="#606368"/></svg>
<div class="t" style="top:776.60px;height:20.42px;line-height:20.42px;font-size:15.71px;color:#121214;font-weight:700;letter-spacing:0.386px;left:315.80px;">96%</div>
<div class="t" style="top:776.60px;height:20.42px;line-height:20.42px;font-size:15.71px;color:#20b26c;font-weight:700;letter-spacing:0.451px;left:401.90px;">+211,291.92</div>
<div class="t" style="top:782.79px;height:12.09px;line-height:12.09px;font-size:9.3px;color:#121214;left:498.90px;transform:scaleX(0.83);transform-origin:left center;">USD</div>
<div class="t" style="top:730.77px;height:13.2px;line-height:13.2px;font-size:10.82px;color:#121214;font-weight:700;letter-spacing:0.070px;left:557.50px;border-bottom:0.7px dotted #e0e2e6;">Sell Orders</div>
<svg style="left:620.00px;top:732.25px" width="9.50" height="9.50" viewBox="0 0 8 8"><path d="M3.4 1.2H2C1.3 1.2 0.8 1.7 0.8 2.4V6C0.8 6.7 1.3 7.2 2 7.2H5.6C6.3 7.2 6.8 6.7 6.8 6V4.6" fill="none" stroke="#adb2bc" stroke-width="0.8"/><path d="M3.6 4.4L7 1M4.8 0.8H7.2V3.2" fill="none" stroke="#adb2bc" stroke-width="0.8"/></svg>
<div class="t" style="top:757.53px;height:11.3px;line-height:11.3px;font-size:8.69px;color:#787c86;letter-spacing:0.409px;left:557.50px;">Total</div>
<div class="t" style="top:757.53px;height:11.3px;line-height:11.3px;font-size:8.69px;color:#787c86;letter-spacing:0.183px;left:669.80px;">Win Rate</div>
<div class="t" style="top:757.54px;height:11.28px;line-height:11.28px;font-size:8.68px;color:#787c86;letter-spacing:0.137px;left:783.00px;">Closed Orders P&amp;L</div>
<div class="t" style="top:776.60px;height:20.42px;line-height:20.42px;font-size:15.71px;color:#121214;font-weight:700;letter-spacing:0.363px;left:557.50px;">76</div>
<div class="t" style="top:780.88px;height:13.74px;line-height:13.74px;font-size:10.57px;color:#adb1b8;letter-spacing:0.145px;left:579.50px;">70W/6L</div>
<svg style="left:668.50px;top:774.10px" width="23.60" height="23.60" viewBox="668.50 774.10 23.60 23.60"><path d="M674.64 792.64A8.8 8.8 0 1 1 685.96 792.64" fill="none" stroke="#20b26c" stroke-width="2.4"/><circle cx="680.30" cy="785.90" r="1.68" fill="none" stroke="#606368" stroke-width="1.54"/><path d="M681.14 783.67L684.91 781.85L682.60 785.20Z" fill="#606368"/></svg>
<div class="t" style="top:776.60px;height:20.42px;line-height:20.42px;font-size:15.71px;color:#121214;font-weight:700;letter-spacing:0.386px;left:696.40px;">96%</div>
<div class="t" style="top:776.60px;height:20.42px;line-height:20.42px;font-size:15.71px;color:#ef454a;font-weight:700;letter-spacing:0.658px;left:783.00px;">-111,112.28</div>
<div class="t" style="top:782.79px;height:12.09px;line-height:12.09px;font-size:9.3px;color:#121214;left:876.60px;transform:scaleX(0.83);transform-origin:left center;">USD</div>
<div class="t" style="top:844.30px;height:15.78px;line-height:15.78px;font-size:12.14px;color:#121214;font-weight:700;letter-spacing:0.112px;left:155.70px;">Closed Orders Details</div>
<div class="t" style="top:844.96px;height:11.71px;line-height:11.71px;font-size:9.01px;color:#de9018;letter-spacing:0.160px;right:29.00px;margin-right:-0.160px;-webkit-text-stroke:0.4px #de9018;">Export</div>
<svg style="left:874.8px;top:845.2px" width="9.6" height="9.6" viewBox="0 0 9 9"><path d="M2.700 6.300H2.300C1.300 6.300 0.600 5.500 0.600 4.600C0.600 3.700 1.200 3.000 2.000 2.900C2.300 1.600 3.300 0.700 4.600 0.700C6.000 0.700 7.200 1.800 7.300 3.200C8.000 3.400 8.400 4.000 8.400 4.800C8.400 5.600 7.800 6.300 7.000 6.300H6.300" fill="none" stroke="#de9018" stroke-width="0.95"/><path d="M4.500 3.800V8.300M3.000 6.900L4.500 8.400L6.000 6.900" fill="none" stroke="#de9018" stroke-width="0.95"/></svg>
<svg style="left:154px;top:868px" width="25" height="24" viewBox="154 868 25 24"><rect x="155.70" y="869.30" width="21.60" height="20.80" rx="3.2" fill="#f7f8fa"/></svg>
<div class="t" style="top:874.25px;height:10.79px;line-height:10.79px;font-size:8.3px;color:#787c86;left:161.89px;">All</div>
<svg style="left:186px;top:868px" width="30" height="24" viewBox="186 868 30 24"><rect x="187.90" y="869.30" width="27.10" height="20.80" rx="3.2" fill="#fff1d6"/></svg>
<div class="t" style="top:874.25px;height:10.79px;line-height:10.79px;font-size:8.3px;color:#e29a0a;font-weight:700;left:192.92px;">BTC</div>
<svg style="left:224px;top:868px" width="31" height="24" viewBox="224 868 31 24"><rect x="225.20" y="869.30" width="27.90" height="20.80" rx="3.2" fill="#f7f8fa"/></svg>
<div class="t" style="top:874.25px;height:10.79px;line-height:10.79px;font-size:8.3px;color:#787c86;left:230.85px;">ETH</div>
<svg style="left:262px;top:868px" width="31" height="24" viewBox="262 868 31 24"><rect x="263.30" y="869.30" width="28.00" height="20.80" rx="3.2" fill="#f7f8fa"/></svg>
<div class="t" style="top:874.25px;height:10.79px;line-height:10.79px;font-size:8.3px;color:#787c86;left:268.77px;">XRP</div>
<svg style="left:154px;top:899px" width="763" height="26" viewBox="154 899 763 26"><rect x="155.70" y="900.60" width="760.30" height="23.40" fill="#f5f6f8"/></svg>
<div class="t" style="top:908.04px;height:9.89px;line-height:9.89px;font-size:7.61px;color:#9a9fa9;letter-spacing:0.104px;left:162.90px;">Contracts</div>
<div class="t" style="top:908.13px;height:9.67px;line-height:9.67px;font-size:7.44px;color:#9a9fa9;letter-spacing:0.046px;left:240.40px;">Filled QTY</div>
<div class="t" style="top:908.02px;height:9.93px;line-height:9.93px;font-size:7.64px;color:#9a9fa9;letter-spacing:0.138px;left:302.70px;">Qty</div>
<div class="t" style="top:908.08px;height:9.8px;line-height:9.8px;font-size:7.54px;color:#9a9fa9;letter-spacing:0.070px;left:364.60px;">Avg. Entry price</div>
<div class="t" style="top:908.10px;height:9.76px;line-height:9.76px;font-size:7.51px;color:#9a9fa9;letter-spacing:0.066px;left:449.70px;">Avg. Close price</div>
<div class="t" style="top:908.02px;height:9.93px;line-height:9.93px;font-size:7.64px;color:#9a9fa9;letter-spacing:0.150px;left:535.30px;">Direction</div>
<div class="t" style="top:908.02px;height:9.93px;line-height:9.93px;font-size:7.64px;color:#9a9fa9;letter-spacing:0.127px;left:597.10px;">Filled Type</div>
<div class="t" style="top:908.06px;height:9.84px;line-height:9.84px;font-size:7.57px;color:#9a9fa9;letter-spacing:0.090px;left:697.50px;">Result</div>
<div class="t" style="top:908.16px;height:9.62px;line-height:9.62px;font-size:7.4px;color:#9a9fa9;letter-spacing:0.032px;left:759.40px;">Close P&amp;L(ROI)</div>
<div class="t" style="top:908.18px;height:9.57px;line-height:9.57px;font-size:7.36px;color:#9a9fa9;letter-spacing:0.021px;left:847.10px;">Open Fee</div>
<div class="t" style="top:929.38px;height:10.02px;line-height:10.02px;font-size:7.71px;color:#1e2023;letter-spacing:0.125px;left:162.90px;-webkit-text-stroke:0.32px #1e2023;">BTC-17JUN22-</div>
<div class="t" style="top:941.36px;height:10.08px;line-height:10.08px;font-size:7.75px;color:#1e2023;letter-spacing:0.239px;left:162.90px;-webkit-text-stroke:0.32px #1e2023;">30000-C</div>
<div class="t" style="top:935.24px;height:10.35px;line-height:10.35px;font-size:7.96px;color:#1e2023;letter-spacing:0.152px;left:240.40px;-webkit-text-stroke:0.32px #1e2023;">1.23</div>
<div class="t" style="top:935.24px;height:10.35px;line-height:10.35px;font-size:7.96px;color:#1e2023;letter-spacing:0.152px;left:302.70px;-webkit-text-stroke:0.32px #1e2023;">1.23</div>
<div class="t" style="top:935.24px;height:10.35px;line-height:10.35px;font-size:7.96px;color:#1e2023;letter-spacing:0.210px;left:364.60px;-webkit-text-stroke:0.32px #1e2023;">23,267.12</div>
<div class="t" style="top:935.24px;height:10.35px;line-height:10.35px;font-size:7.96px;color:#1e2023;letter-spacing:0.210px;left:449.70px;-webkit-text-stroke:0.32px #1e2023;">28,267.12</div>
<div class="t" style="top:935.40px;height:9.98px;line-height:9.98px;font-size:7.68px;color:#ef454a;letter-spacing:0.052px;left:535.30px;">Close Sell</div>
<div class="t" style="top:935.39px;height:10.01px;line-height:10.01px;font-size:7.7px;color:#1e2023;letter-spacing:0.074px;left:597.10px;-webkit-text-stroke:0.32px #1e2023;">Trade</div>
<svg style="left:696px;top:931px" width="22" height="17" viewBox="696 931 22 17"><rect x="697.20" y="932.00" width="19.60" height="14.50" rx="3" fill="#fff1d6"/></svg>
<div class="t" style="top:935.20px;height:9.52px;line-height:9.52px;font-size:7.32px;color:#e29a0a;font-weight:700;letter-spacing:-0.117px;left:700.60px;">Win</div>
<div class="t" style="top:935.26px;height:10.3px;line-height:10.3px;font-size:7.92px;color:#20b26c;letter-spacing:0.107px;left:759.40px;-webkit-text-stroke:0.32px #20b26c;">23.234 (+28.37%)</div>
<svg style="left:832.60px;top:936.18px" width="7.04" height="7.04" viewBox="0 0 8 8"><path d="M3.4 1.2H2C1.3 1.2 0.8 1.7 0.8 2.4V6C0.8 6.7 1.3 7.2 2 7.2H5.6C6.3 7.2 6.8 6.7 6.8 6V4.6" fill="none" stroke="#adb2bc" stroke-width="0.8"/><path d="M3.6 4.4L7 1M4.8 0.8H7.2V3.2" fill="none" stroke="#adb2bc" stroke-width="0.8"/></svg>
<div class="t" style="top:935.24px;height:10.35px;line-height:10.35px;font-size:7.96px;color:#1e2023;letter-spacing:0.136px;left:847.10px;-webkit-text-stroke:0.32px #1e2023;">0.001</div>
<div class="t" style="top:960.38px;height:10.02px;line-height:10.02px;font-size:7.71px;color:#1e2023;letter-spacing:0.125px;left:162.90px;-webkit-text-stroke:0.32px #1e2023;">BTC-17JUN22-</div>
<div class="t" style="top:972.36px;height:10.08px;line-height:10.08px;font-size:7.75px;color:#1e2023;letter-spacing:0.239px;left:162.90px;-webkit-text-stroke:0.32px #1e2023;">30000-C</div>
<div class="t" style="top:966.24px;height:10.35px;line-height:10.35px;font-size:7.96px;color:#1e2023;letter-spacing:0.152px;left:240.40px;-webkit-text-stroke:0.32px #1e2023;">1.23</div>
<div class="t" style="top:966.24px;height:10.35px;line-height:10.35px;font-size:7.96px;color:#1e2023;letter-spacing:0.152px;left:302.70px;-webkit-text-stroke:0.32px #1e2023;">1.23</div>
<div class="t" style="top:966.24px;height:10.35px;line-height:10.35px;font-size:7.96px;color:#1e2023;letter-spacing:0.210px;left:364.60px;-webkit-text-stroke:0.32px #1e2023;">23,267.12</div>
<div class="t" style="top:966.24px;height:10.35px;line-height:10.35px;font-size:7.96px;color:#1e2023;letter-spacing:0.210px;left:449.70px;-webkit-text-stroke:0.32px #1e2023;">28,267.12</div>
<div class="t" style="top:966.40px;height:9.98px;line-height:9.98px;font-size:7.68px;color:#ef454a;letter-spacing:0.052px;left:535.30px;">Close Sell</div>
<div class="t" style="top:966.30px;height:10.21px;line-height:10.21px;font-size:7.85px;color:#1e2023;letter-spacing:0.157px;left:597.10px;-webkit-text-stroke:0.32px #1e2023;">Liqudation</div>
<svg style="left:696px;top:962px" width="22" height="17" viewBox="696 962 22 17"><rect x="697.20" y="963.00" width="19.60" height="14.50" rx="3" fill="#f7f8fa"/></svg>
<div class="t" style="top:966.13px;height:9.67px;line-height:9.67px;font-size:7.44px;color:#787c86;letter-spacing:-0.016px;left:700.60px;">Lost</div>
<div class="t" style="top:966.26px;height:10.3px;line-height:10.3px;font-size:7.92px;color:#20b26c;letter-spacing:0.107px;left:759.40px;-webkit-text-stroke:0.32px #20b26c;">23.234 (+28.37%)</div>
<svg style="left:832.60px;top:967.18px" width="7.04" height="7.04" viewBox="0 0 8 8"><path d="M3.4 1.2H2C1.3 1.2 0.8 1.7 0.8 2.4V6C0.8 6.7 1.3 7.2 2 7.2H5.6C6.3 7.2 6.8 6.7 6.8 6V4.6" fill="none" stroke="#adb2bc" stroke-width="0.8"/><path d="M3.6 4.4L7 1M4.8 0.8H7.2V3.2" fill="none" stroke="#adb2bc" stroke-width="0.8"/></svg>
<div class="t" style="top:966.24px;height:10.35px;line-height:10.35px;font-size:7.96px;color:#1e2023;letter-spacing:0.136px;left:847.10px;-webkit-text-stroke:0.32px #1e2023;">0.001</div>
<div class="t" style="top:991.28px;height:10.02px;line-height:10.02px;font-size:7.71px;color:#1e2023;letter-spacing:0.125px;left:162.90px;-webkit-text-stroke:0.32px #1e2023;">BTC-17JUN22-</div>
<div class="t" style="top:1003.26px;height:10.08px;line-height:10.08px;font-size:7.75px;color:#1e2023;letter-spacing:0.239px;left:162.90px;-webkit-text-stroke:0.32px #1e2023;">30000-C</div>
<div class="t" style="top:997.14px;height:10.35px;line-height:10.35px;font-size:7.96px;color:#1e2023;letter-spacing:0.152px;left:240.40px;-webkit-text-stroke:0.32px #1e2023;">1.23</div>
<div class="t" style="top:997.14px;height:10.35px;line-height:10.35px;font-size:7.96px;color:#1e2023;letter-spacing:0.152px;left:302.70px;-webkit-text-stroke:0.32px #1e2023;">1.23</div>
<div class="t" style="top:997.14px;height:10.35px;line-height:10.35px;font-size:7.96px;color:#1e2023;letter-spacing:0.210px;left:364.60px;-webkit-text-stroke:0.32px #1e2023;">23,267.12</div>
<div class="t" style="top:997.14px;height:10.35px;line-height:10.35px;font-size:7.96px;color:#1e2023;letter-spacing:0.210px;left:449.70px;-webkit-text-stroke:0.32px #1e2023;">28,267.12</div>
<div class="t" style="top:997.30px;height:9.98px;line-height:9.98px;font-size:7.68px;color:#ef454a;letter-spacing:0.052px;left:535.30px;">Close Sell</div>
<div class="t" style="top:997.27px;height:10.06px;line-height:10.06px;font-size:7.74px;color:#1e2023;letter-spacing:0.076px;left:597.10px;-webkit-text-stroke:0.32px #1e2023;">Move Position</div>
<svg style="left:696px;top:992px" width="22" height="18" viewBox="696 992 22 18"><rect x="697.20" y="993.90" width="19.60" height="14.50" rx="3" fill="#fff1d6"/></svg>
<div class="t" style="top:997.10px;height:9.52px;line-height:9.52px;font-size:7.32px;color:#e29a0a;font-weight:700;letter-spacing:-0.117px;left:700.60px;">Win</div>
<div class="t" style="top:997.16px;height:10.3px;line-height:10.3px;font-size:7.92px;color:#20b26c;letter-spacing:0.107px;left:759.40px;-webkit-text-stroke:0.32px #20b26c;">23.234 (+28.37%)</div>
<svg style="left:832.60px;top:998.08px" width="7.04" height="7.04" viewBox="0 0 8 8"><path d="M3.4 1.2H2C1.3 1.2 0.8 1.7 0.8 2.4V6C0.8 6.7 1.3 7.2 2 7.2H5.6C6.3 7.2 6.8 6.7 6.8 6V4.6" fill="none" stroke="#adb2bc" stroke-width="0.8"/><path d="M3.6 4.4L7 1M4.8 0.8H7.2V3.2" fill="none" stroke="#adb2bc" stroke-width="0.8"/></svg>
<div class="t" style="top:997.14px;height:10.35px;line-height:10.35px;font-size:7.96px;color:#1e2023;letter-spacing:0.136px;left:847.10px;-webkit-text-stroke:0.32px #1e2023;">0.001</div>
<div class="t" style="top:1022.18px;height:10.02px;line-height:10.02px;font-size:7.71px;color:#1e2023;letter-spacing:0.125px;left:162.90px;-webkit-text-stroke:0.32px #1e2023;">BTC-17JUN22-</div>
<div class="t" style="top:1034.16px;height:10.08px;line-height:10.08px;font-size:7.75px;color:#1e2023;letter-spacing:0.239px;left:162.90px;-webkit-text-stroke:0.32px #1e2023;">30000-C</div>
<div class="t" style="top:1028.04px;height:10.35px;line-height:10.35px;font-size:7.96px;color:#1e2023;letter-spacing:0.152px;left:240.40px;-webkit-text-stroke:0.32px #1e2023;">1.23</div>
<div class="t" style="top:1028.04px;height:10.35px;line-height:10.35px;font-size:7.96px;color:#1e2023;letter-spacing:0.152px;left:302.70px;-webkit-text-stroke:0.32px #1e2023;">1.23</div>
<div class="t" style="top:1028.04px;height:10.35px;line-height:10.35px;font-size:7.96px;color:#1e2023;letter-spacing:0.210px;left:364.60px;-webkit-text-stroke:0.32px #1e2023;">23,267.12</div>
<div class="t" style="top:1028.04px;height:10.35px;line-height:10.35px;font-size:7.96px;color:#1e2023;letter-spacing:0.210px;left:449.70px;-webkit-text-stroke:0.32px #1e2023;">28,267.12</div>
<div class="t" style="top:1028.24px;height:9.89px;line-height:9.89px;font-size:7.61px;color:#ef454a;letter-spacing:0.035px;left:535.30px;">Close Buy</div>
<div class="t" style="top:1028.19px;height:10.01px;line-height:10.01px;font-size:7.7px;color:#1e2023;letter-spacing:0.074px;left:597.10px;-webkit-text-stroke:0.32px #1e2023;">Trade</div>
<svg style="left:696px;top:1023px" width="22" height="18" viewBox="696 1023 22 18"><rect x="697.20" y="1024.80" width="19.60" height="14.50" rx="3" fill="#f7f8fa"/></svg>
<div class="t" style="top:1027.93px;height:9.67px;line-height:9.67px;font-size:7.44px;color:#787c86;letter-spacing:-0.016px;left:700.60px;">Lost</div>
<div class="t" style="top:1028.06px;height:10.3px;line-height:10.3px;font-size:7.92px;color:#20b26c;letter-spacing:0.107px;left:759.40px;-webkit-text-stroke:0.32px #20b26c;">23.234 (+28.37%)</div>
<svg style="left:832.60px;top:1028.98px" width="7.04" height="7.04" viewBox="0 0 8 8"><path d="M3.4 1.2H2C1.3 1.2 0.8 1.7 0.8 2.4V6C0.8 6.7 1.3 7.2 2 7.2H5.6C6.3 7.2 6.8 6.7 6.8 6V4.6" fill="none" stroke="#adb2bc" stroke-width="0.8"/><path d="M3.6 4.4L7 1M4.8 0.8H7.2V3.2" fill="none" stroke="#adb2bc" stroke-width="0.8"/></svg>
<div class="t" style="top:1028.04px;height:10.35px;line-height:10.35px;font-size:7.96px;color:#1e2023;letter-spacing:0.136px;left:847.10px;-webkit-text-stroke:0.32px #1e2023;">0.001</div>
</div></body></html>
